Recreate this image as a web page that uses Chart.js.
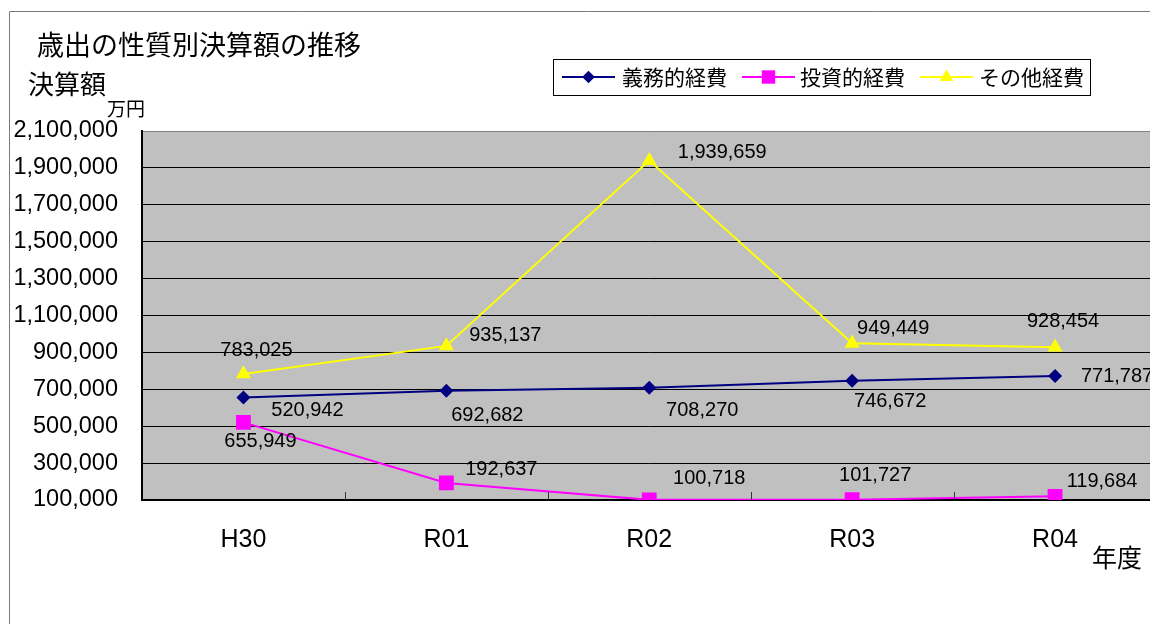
<!DOCTYPE html>
<html>
<head>
<meta charset="utf-8">
<script src="https://cdn.jsdelivr.net/npm/chart.js@4/dist/chart.umd.min.js"></script>
<style>
  body { margin: 0; background: #fff; overflow: hidden; }
  #wrap { width: 1150px; height: 624px; overflow: hidden; position: relative; }
</style>
</head>
<body>
<div id="wrap"><canvas id="myChart" width="1167" height="624"></canvas></div>
<script>
// data
var years = ['H30', 'R01', 'R02', 'R03', 'R04'];
var seriesNames = ['義務的経費', '投資的経費', 'その他経費'];
var gimu = [655949, 692682, 708270, 746672, 771787];
var toshi = [520942, 192637, 100718, 101727, 119684];
var sonota = [783025, 935137, 1939659, 949449, 928454];
// label texts as printed on the chart (H30 ones are swapped in the original)
var gimuLabels = ['520,942', '692,682', '708,270', '746,672', '771,787'];
var toshiLabels = ['655,949', '192,637', '100,718', '101,727', '119,684'];
var sonotaLabels = ['783,025', '935,137', '1,939,659', '949,449', '928,454'];
var yMin = 100000, yMax = 2100000, yStep = 200000;

// where each label sits relative to its point
var labelOffsets = [
  [[64, 13], [41, 25], [53, 23], [38, 21], [62, 0]],
  [[17, 19], [55, -13], [60, -21], [23, -24], [47, -15]],
  [[13, -23], [59, -10], [73, -8], [41, -15], [8, -26]]
];
var allLabels = [gimuLabels, toshiLabels, sonotaLabels];

var numFont = '"Liberation Sans", Arial, sans-serif';
var jpFont = '"Noto Sans CJK JP", sans-serif';

var decoPlugin = {
  id: 'deco',
  beforeDraw: function(chart) {
    var ctx = chart.ctx, a = chart.chartArea;
    ctx.save();
    ctx.fillStyle = '#c0c0c0';
    ctx.fillRect(a.left, a.top, a.right - a.left, a.bottom - a.top);
    ctx.restore();
  },
  afterDraw: function(chart) {
    var ctx = chart.ctx, a = chart.chartArea;
    var x = chart.scales.x;
    ctx.save();
    // outer frame
    ctx.strokeStyle = '#7a7a7a';
    ctx.lineWidth = 1;
    ctx.beginPath();
    ctx.moveTo(9.5, 624);
    ctx.lineTo(9.5, 11.5);
    ctx.lineTo(1167, 11.5);
    ctx.stroke();
    // small ticks between categories
    ctx.strokeStyle = '#333';
    ctx.beginPath();
    for (var i = 1; i < years.length; i++) {
      var tx = Math.round((x.getPixelForValue(i - 1) + x.getPixelForValue(i)) / 2) + 0.5;
      ctx.moveTo(tx, a.bottom - 8);
      ctx.lineTo(tx, a.bottom);
    }
    ctx.stroke();
    // texts
    ctx.fillStyle = '#000';
    ctx.textBaseline = 'middle';
    ctx.textAlign = 'left';
    ctx.font = '27px ' + jpFont;
    ctx.fillText('歳出の性質別決算額の推移', 37, 45);
    ctx.font = '26px ' + jpFont;
    ctx.fillText('決算額', 28, 84);
    ctx.font = '19px ' + jpFont;
    ctx.fillText('万円', 107, 109);
    ctx.font = '25px ' + jpFont;
    ctx.fillText('年度', 1092, 557);
    // legend
    ctx.strokeStyle = '#000';
    ctx.lineWidth = 1;
    ctx.strokeRect(553.5, 59.5, 537, 36);
    var legX = [562, 742, 920];
    var txtX = [622, 800, 979];
    var ds = chart.data.datasets;
    ctx.font = '21px ' + jpFont;
    for (var k = 0; k < ds.length; k++) {
      ctx.strokeStyle = ds[k].borderColor;
      ctx.lineWidth = 2;
      ctx.beginPath();
      ctx.moveTo(legX[k], 77);
      ctx.lineTo(legX[k] + 53, 77);
      ctx.stroke();
      ctx.fillStyle = ds[k].borderColor;
      Chart.helpers.drawPoint(ctx, {pointStyle: ds[k].pointStyle, radius: ds[k].pointRadius * 0.9, borderWidth: 0}, legX[k] + 26.5, 77);
      ctx.fillStyle = '#000';
      ctx.fillText(seriesNames[k], txtX[k], 77);
    }
    // value labels
    ctx.font = '20px ' + numFont;
    ctx.textAlign = 'center';
    for (var d = 0; d < ds.length; d++) {
      var meta = chart.getDatasetMeta(d);
      meta.data.forEach(function(pt, j) {
        var off = labelOffsets[d][j];
        ctx.fillText(allLabels[d][j], pt.x + off[0], pt.y + off[1]);
      });
    }
    ctx.restore();
  }
};

new Chart(document.getElementById('myChart'), {
  type: 'line',
  data: {
    labels: years,
    datasets: [
      {
        label: seriesNames[0], data: gimu,
        borderColor: '#000080', backgroundColor: '#000080',
        borderWidth: 2, pointStyle: 'rectRot', pointRadius: 7, pointBorderWidth: 0
      },
      {
        label: seriesNames[1], data: toshi,
        borderColor: '#ff00ff', backgroundColor: '#ff00ff',
        borderWidth: 2, pointStyle: 'rect', pointRadius: 10.5, pointBorderWidth: 0
      },
      {
        label: seriesNames[2], data: sonota,
        borderColor: '#ffff00', backgroundColor: '#ffff00',
        borderWidth: 2, pointStyle: 'triangle', pointRadius: 8.7, pointBorderWidth: 0
      }
    ]
  },
  options: {
    responsive: false,
    animation: false,
    devicePixelRatio: 1,
    layout: { padding: { top: 131, left: 0, right: 0, bottom: 0 } },
    plugins: { legend: { display: false }, title: { display: false }, tooltip: { enabled: false } },
    scales: {
      x: {
        type: 'category',
        offset: true,
        grid: { display: false },
        border: { display: true, color: '#000', width: 2 },
        ticks: { color: '#000', padding: 17, font: { family: numFont, size: 25 } },
        afterFit: function(scale) { scale.height = 124; }
      },
      y: {
        min: yMin, max: yMax,
        grid: {
          drawTicks: false,
          color: function(c) { return c.tick && c.tick.value === yMax ? '#808080' : '#000'; },
          lineWidth: 1
        },
        border: { display: true, color: '#000', width: 2 },
        ticks: {
          stepSize: yStep, color: '#000', padding: 24,
          font: { family: numFont, size: 23.5 },
          callback: function(v) { return v.toLocaleString('en-US'); }
        },
        afterFit: function(scale) { scale.width = 142; }
      }
    }
  },
  plugins: [decoPlugin]
});
</script>
</body>
</html>
